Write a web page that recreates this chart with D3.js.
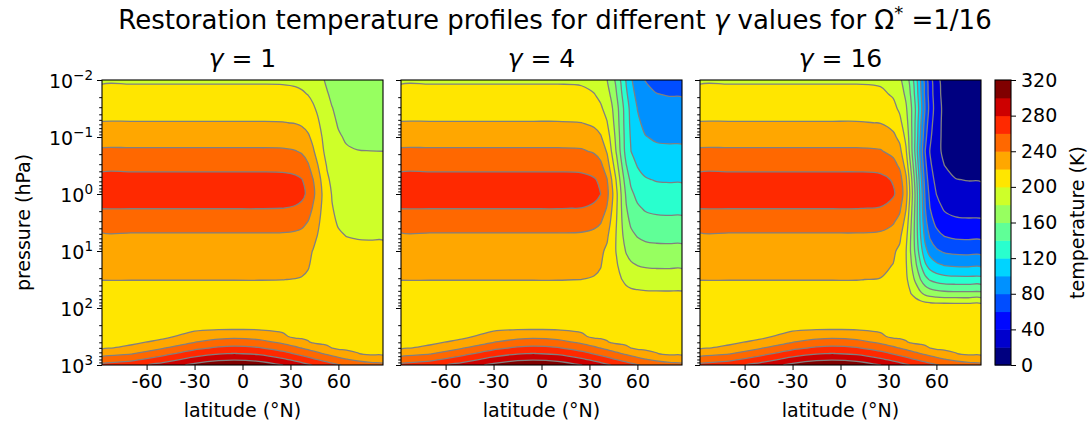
<!DOCTYPE html>
<html>
<head>
<meta charset="utf-8">
<script src="https://cdn.jsdelivr.net/npm/d3@7"></script>
<style>
  body { margin: 0; background: #fff; }
  text { font-family: "DejaVu Sans", sans-serif; fill: #000; }
</style>
</head>
<body>
<svg id="chart" width="1092" height="432"></svg>
<script>
// ---- data ----
const gammas = [1, 4, 16];
const latitudes = [-87.9, -70, -50, -30, -15, -5, 10, 25, 33, 37, 41, 44, 47, 50, 53, 56, 60, 65, 72, 80, 87.9];
const pressureLevels = [0.01, 0.0178, 0.0316, 0.0562, 0.1, 0.178, 0.316, 0.562, 1, 1.78, 3.16, 5.62, 10, 17.8, 31.6, 56.2,
                        100, 224, 316, 398, 501, 631, 794, 1000];
const contourLevels = [0, 20, 40, 60, 80, 100, 120, 140, 160, 180, 200, 220, 240, 260, 280, 300, 320];
const latTicks = [-60, -30, 0, 30, 60];
const pressureTicks = [0.01, 0.1, 1, 10, 100, 1000];
const pressureTickExp = ["\u22122", "\u22121", "0", "1", "2", "3"];
const colorbarTicks = [0, 40, 80, 120, 160, 200, 240, 280, 320];

// stratosphere rows (0.01 .. 56.2 hPa), one row per pressure level, one value per latitude
const tempGamma1 = [
  [198.0, 198.0, 198.0, 198.0, 198.0, 198.0, 198.0, 197.8, 196.9, 195.6, 193.4, 190.5, 186.5, 181.8, 177.0, 173.0, 169.4, 167.0, 165.9, 165.6, 165.5],
  [204.8, 204.8, 204.8, 204.8, 204.8, 204.8, 204.8, 204.6, 203.6, 202.1, 199.6, 196.3, 191.9, 186.6, 181.2, 176.7, 172.6, 170.0, 168.7, 168.4, 168.3],
  [211.9, 211.9, 211.9, 211.9, 211.9, 211.9, 211.9, 211.7, 210.5, 208.9, 206.1, 202.5, 197.5, 191.6, 185.6, 180.6, 176.0, 173.1, 171.7, 171.3, 171.2],
  [220.9, 220.9, 220.9, 220.9, 220.9, 220.9, 220.9, 220.6, 219.3, 217.5, 213.7, 208.7, 202.5, 195.3, 188.4, 183.2, 178.7, 175.9, 174.6, 174.2, 174.1],
  [231.6, 231.6, 231.6, 231.6, 231.6, 231.6, 231.6, 231.3, 229.7, 227.6, 222.6, 215.8, 208.1, 199.2, 191.1, 185.6, 181.4, 178.6, 177.4, 177.1, 177.0],
  [242.8, 242.8, 242.8, 242.8, 242.8, 242.8, 242.8, 242.4, 240.7, 238.2, 231.8, 222.7, 213.3, 202.6, 193.2, 187.5, 183.8, 181.4, 180.3, 180.1, 180.0],
  [254.5, 254.5, 254.5, 254.5, 254.5, 254.5, 254.5, 254.1, 252.1, 249.3, 242.0, 231.7, 220.9, 208.8, 198.1, 191.7, 187.4, 184.7, 183.5, 183.2, 183.1],
  [266.8, 266.8, 266.8, 266.8, 266.8, 266.8, 266.8, 266.3, 264.1, 260.9, 252.7, 241.0, 228.9, 215.2, 203.1, 195.9, 191.0, 188.0, 186.6, 186.3, 186.2],
  [270.6, 270.6, 270.6, 270.6, 270.6, 270.6, 270.6, 270.2, 267.9, 264.7, 256.4, 244.7, 232.5, 218.7, 206.5, 199.2, 194.3, 191.2, 189.8, 189.5, 189.4],
  [260.4, 260.4, 260.4, 260.4, 260.4, 260.4, 260.4, 260.0, 258.1, 255.5, 248.5, 238.7, 228.5, 217.0, 206.8, 200.7, 196.7, 194.1, 192.9, 192.7, 192.6],
  [248.4, 248.4, 248.4, 248.4, 248.4, 248.4, 248.4, 248.1, 246.6, 244.6, 239.2, 231.6, 223.7, 214.7, 206.9, 202.1, 199.0, 197.0, 196.1, 195.9, 195.8],
  [236.9, 236.9, 236.9, 236.9, 236.9, 236.9, 236.9, 236.7, 235.6, 234.2, 230.3, 224.8, 219.2, 212.8, 207.1, 203.7, 201.5, 200.0, 199.4, 199.2, 199.2],
  [227.7, 227.7, 227.7, 227.7, 227.7, 227.7, 227.7, 227.6, 226.8, 225.9, 223.3, 219.6, 215.9, 211.6, 207.8, 205.5, 204.0, 203.1, 202.6, 202.5, 202.5],
  [223.9, 223.9, 223.9, 223.9, 223.9, 223.9, 223.9, 223.8, 223.3, 222.6, 220.8, 218.2, 215.5, 212.4, 209.8, 208.2, 207.1, 206.4, 206.1, 206.0, 206.0],
  [220.2, 220.2, 220.2, 220.2, 220.2, 220.2, 220.2, 220.1, 219.8, 219.4, 218.3, 216.8, 215.2, 213.4, 211.8, 210.8, 210.1, 209.7, 209.6, 209.5, 209.5],
  [216.6, 216.6, 216.6, 216.6, 216.6, 216.6, 216.6, 216.6, 216.5, 216.4, 216.0, 215.5, 214.9, 214.3, 213.8, 213.4, 213.2, 213.1, 213.0, 213.0, 213.0]
];
const tempGamma4 = [
  [198.0, 198.0, 198.0, 198.0, 198.0, 198.0, 198.0, 197.3, 193.8, 188.9, 180.4, 169.2, 154.0, 135.9, 117.7, 102.4, 88.5, 79.5, 75.2, 74.0, 73.7],
  [204.8, 204.8, 204.8, 204.8, 204.8, 204.8, 204.8, 204.0, 200.5, 195.6, 186.9, 175.6, 160.2, 141.9, 123.5, 108.0, 93.9, 84.8, 80.4, 79.2, 78.9],
  [211.9, 211.9, 211.9, 211.9, 211.9, 211.9, 211.9, 211.1, 207.6, 202.6, 193.8, 182.3, 166.8, 148.2, 129.5, 113.9, 99.6, 90.4, 85.9, 84.7, 84.4],
  [220.9, 220.9, 220.9, 220.9, 220.9, 220.9, 220.9, 220.1, 216.5, 211.4, 200.9, 186.8, 169.6, 149.5, 130.3, 115.6, 103.2, 95.4, 91.6, 90.6, 90.3],
  [231.6, 231.6, 231.6, 231.6, 231.6, 231.6, 231.6, 230.8, 227.0, 221.7, 209.5, 192.5, 173.4, 151.5, 131.4, 117.8, 107.4, 100.7, 97.5, 96.9, 96.6],
  [242.8, 242.8, 242.8, 242.8, 242.8, 242.8, 242.8, 242.0, 238.1, 232.6, 218.4, 198.2, 177.2, 153.5, 132.6, 120.0, 111.7, 106.4, 104.0, 103.4, 103.3],
  [254.5, 254.5, 254.5, 254.5, 254.5, 254.5, 254.5, 253.6, 249.6, 244.0, 229.3, 208.4, 186.8, 162.3, 140.7, 127.8, 119.1, 113.7, 111.2, 110.6, 110.5],
  [266.8, 266.8, 266.8, 266.8, 266.8, 266.8, 266.8, 265.9, 261.8, 256.0, 240.8, 219.3, 197.0, 171.7, 149.4, 136.0, 127.1, 121.5, 118.9, 118.4, 118.2],
  [270.6, 270.6, 270.6, 270.6, 270.6, 270.6, 270.6, 269.8, 265.8, 260.1, 245.4, 224.5, 202.9, 178.3, 156.7, 143.7, 135.1, 129.6, 127.1, 126.5, 126.4],
  [260.4, 260.4, 260.4, 260.4, 260.4, 260.4, 260.4, 259.7, 256.1, 251.3, 238.5, 220.3, 201.6, 180.3, 161.5, 150.2, 142.7, 138.0, 135.8, 135.3, 135.2],
  [248.4, 248.4, 248.4, 248.4, 248.4, 248.4, 248.4, 247.8, 244.9, 240.8, 230.2, 215.2, 199.6, 182.0, 166.4, 157.1, 150.8, 146.9, 145.1, 144.7, 144.6],
  [236.9, 236.9, 236.9, 236.9, 236.9, 236.9, 236.9, 236.4, 234.1, 230.9, 222.5, 210.6, 198.3, 184.3, 172.0, 164.6, 159.6, 156.5, 155.1, 154.8, 154.7],
  [227.7, 227.7, 227.7, 227.7, 227.7, 227.7, 227.7, 227.3, 225.6, 223.2, 216.8, 207.8, 198.5, 187.9, 178.6, 173.0, 169.2, 166.9, 165.8, 165.6, 165.5],
  [223.9, 223.9, 223.9, 223.9, 223.9, 223.9, 223.9, 223.6, 222.3, 220.5, 215.7, 208.9, 201.9, 193.9, 186.9, 182.6, 179.8, 178.0, 177.2, 177.1, 177.0],
  [220.2, 220.2, 220.2, 220.2, 220.2, 220.2, 220.2, 220.0, 219.2, 218.0, 214.8, 210.3, 205.7, 200.5, 195.9, 193.1, 191.3, 190.1, 189.6, 189.4, 189.4],
  [216.6, 216.6, 216.6, 216.6, 216.6, 216.6, 216.6, 216.6, 216.2, 215.6, 214.2, 212.1, 210.0, 207.6, 205.5, 204.2, 203.4, 202.8, 202.6, 202.5, 202.5]
];
const tempGamma16 = [
  [198.0, 198.0, 198.0, 198.0, 198.0, 198.0, 198.0, 196.8, 191.4, 183.8, 170.3, 152.7, 128.9, 100.5, 72.0, 48.0, 26.1, 12.1, 5.2, 3.3, 2.9],
  [204.8, 204.8, 204.8, 204.8, 204.8, 204.8, 204.8, 203.6, 198.0, 190.1, 176.3, 158.2, 133.7, 104.3, 75.0, 50.2, 27.7, 13.3, 6.2, 4.2, 3.8],
  [211.9, 211.9, 211.9, 211.9, 211.9, 211.9, 211.9, 210.7, 204.9, 196.8, 182.5, 163.9, 138.7, 108.5, 78.2, 52.8, 29.6, 14.7, 7.5, 5.4, 5.0],
  [220.9, 220.9, 220.9, 220.9, 220.9, 220.9, 220.9, 219.6, 213.6, 205.3, 188.1, 164.9, 136.6, 103.6, 72.1, 48.1, 27.7, 14.9, 8.6, 6.9, 6.5],
  [231.6, 231.6, 231.6, 231.6, 231.6, 231.6, 231.6, 230.3, 224.0, 215.3, 195.0, 166.9, 135.5, 99.4, 66.1, 43.6, 26.4, 15.3, 10.2, 9.0, 8.6],
  [242.8, 242.8, 242.8, 242.8, 242.8, 242.8, 242.8, 241.4, 234.9, 225.9, 202.3, 168.7, 133.9, 94.6, 59.8, 39.0, 25.1, 16.3, 12.4, 11.4, 11.2],
  [254.5, 254.5, 254.5, 254.5, 254.5, 254.5, 254.5, 253.1, 246.3, 237.0, 212.5, 177.8, 141.8, 101.0, 65.1, 43.5, 29.1, 20.0, 15.9, 14.9, 14.7],
  [266.8, 266.8, 266.8, 266.8, 266.8, 266.8, 266.8, 265.3, 258.4, 248.7, 223.5, 187.6, 150.4, 108.3, 71.2, 48.9, 34.1, 24.6, 20.4, 19.5, 19.2],
  [270.6, 270.6, 270.6, 270.6, 270.6, 270.6, 270.6, 269.2, 262.3, 252.7, 227.7, 192.1, 155.2, 113.5, 76.7, 54.6, 39.8, 30.5, 26.3, 25.4, 25.1],
  [260.4, 260.4, 260.4, 260.4, 260.4, 260.4, 260.4, 259.0, 252.7, 243.8, 220.6, 187.6, 153.5, 114.8, 80.7, 60.2, 46.6, 37.9, 34.0, 33.1, 32.9],
  [248.4, 248.4, 248.4, 248.4, 248.4, 248.4, 248.4, 247.2, 241.4, 233.4, 212.5, 182.7, 151.9, 116.9, 86.1, 67.7, 55.3, 47.5, 44.0, 43.2, 43.0],
  [236.9, 236.9, 236.9, 236.9, 236.9, 236.9, 236.9, 235.8, 230.8, 223.7, 205.3, 179.1, 152.0, 121.3, 94.2, 78.0, 67.1, 60.3, 57.2, 56.5, 56.3],
  [227.7, 227.7, 227.7, 227.7, 227.7, 227.7, 227.7, 226.8, 222.5, 216.5, 200.8, 178.4, 155.3, 129.1, 106.0, 92.2, 82.9, 77.1, 74.5, 73.9, 73.7],
  [223.9, 223.9, 223.9, 223.9, 223.9, 223.9, 223.9, 223.1, 219.6, 214.6, 201.6, 183.2, 164.1, 142.4, 123.3, 111.9, 104.2, 99.4, 97.2, 96.7, 96.6],
  [220.2, 220.2, 220.2, 220.2, 220.2, 220.2, 220.2, 219.6, 217.0, 213.4, 203.8, 190.2, 176.1, 160.2, 146.1, 137.7, 132.0, 128.5, 126.9, 126.5, 126.4],
  [216.6, 216.6, 216.6, 216.6, 216.6, 216.6, 216.6, 216.3, 214.9, 212.9, 207.7, 200.3, 192.6, 183.9, 176.2, 171.6, 168.6, 166.6, 165.8, 165.6, 165.5]
];
// troposphere rows (100 .. 1000 hPa), the same in all three panels
const tempTroposphere = [
  [216.6, 216.6, 216.6, 216.6, 216.6, 216.6, 216.6, 216.6, 216.6, 216.6, 216.6, 216.6, 216.6, 216.6, 216.6, 216.6, 216.6, 216.6, 216.6, 216.6, 216.6],
  [216.6, 216.6, 216.6, 216.6, 216.6, 216.6, 216.6, 216.6, 216.6, 216.6, 216.6, 216.6, 216.6, 216.6, 216.6, 216.6, 216.6, 216.6, 216.6, 216.6, 216.6],
  [216.6, 216.6, 216.6, 225.7, 233.4, 235.2, 232.2, 222.8, 216.6, 216.6, 216.6, 216.6, 216.6, 216.6, 216.6, 216.6, 216.6, 216.6, 216.6, 216.6, 216.6],
  [216.6, 216.6, 223.9, 239.7, 247.6, 249.5, 246.2, 236.4, 229.2, 225.3, 221.3, 218.2, 216.6, 216.6, 216.6, 216.6, 216.6, 216.6, 216.6, 216.6, 216.6],
  [217.6, 223.5, 238.3, 254.6, 262.7, 264.6, 261.2, 251.0, 243.5, 239.4, 235.2, 232.1, 228.9, 225.7, 222.7, 219.7, 216.6, 216.6, 216.6, 216.6, 216.6],
  [232.4, 238.4, 253.7, 270.4, 278.7, 280.5, 277.0, 266.4, 258.6, 254.4, 250.1, 246.8, 243.5, 240.2, 237.1, 234.0, 230.1, 225.7, 220.6, 216.6, 216.6],
  [248.2, 254.4, 270.0, 287.2, 295.6, 297.5, 293.7, 282.7, 274.7, 270.3, 265.8, 262.4, 259.0, 255.7, 252.4, 249.2, 245.2, 240.7, 235.4, 231.3, 229.5],
  [265.1, 271.4, 287.5, 305.0, 313.6, 315.4, 311.5, 300.1, 291.8, 287.3, 282.6, 279.1, 275.6, 272.1, 268.7, 265.5, 261.3, 256.7, 251.2, 247.0, 245.1]
];
const panelTemps = [tempGamma1, tempGamma4, tempGamma16];

// ---- layout ----
const svg = d3.select("#chart");
const plotTop = 80, plotBottom = 365;
const panelLefts = [102, 401, 700];
const panelWidth = 281;
const tickFont = 19;

// matplotlib "jet" lookup table (256 entries)
function jet(t) {
  const seg = {
    r: [[0, 0], [0.35, 0], [0.66, 1], [0.89, 1], [1, 0.5]],
    g: [[0, 0], [0.125, 0], [0.375, 1], [0.64, 1], [0.91, 0], [1, 0]],
    b: [[0, 0.5], [0.11, 1], [0.34, 1], [0.65, 0], [1, 0]]
  };
  const u = Math.min(255, Math.floor(t * 256)) / 255;
  const f = pts => {
    for (let k = 0; k < pts.length - 1; k++) {
      const [x0, y0] = pts[k], [x1, y1] = pts[k + 1];
      if (u <= x1) return y0 + (y1 - y0) * (u - x0) / (x1 - x0);
    }
    return pts[pts.length - 1][1];
  };
  return d3.rgb(Math.round(f(seg.r) * 255), Math.round(f(seg.g) * 255), Math.round(f(seg.b) * 255)).formatHex();
}
// contourf colours: band midpoints, normalised from the first to the last band
const lo = contourLevels[0], hi = contourLevels[contourLevels.length - 1];
const mids = contourLevels.slice(0, -1).map((v, i) => (v + contourLevels[i + 1]) / 2);
const bandColors = mids.map(m => jet((m - mids[0]) / (mids[mids.length - 1] - mids[0])));

const y = d3.scaleLog().domain([0.01, 1000]).range([plotTop, plotBottom]);
const latAt = d3.scaleLinear().domain(d3.range(latitudes.length)).range(latitudes);
const logpAt = d3.scaleLinear().domain(d3.range(pressureLevels.length)).range(pressureLevels.map(Math.log10));
const smooth = d3.line().curve(d3.curveCatmullRomClosed.alpha(0.5));

const minorTicks = [];
[-2, -1, 0, 1, 2].forEach(e => { for (let m = 2; m <= 9; m++) minorTicks.push(m * Math.pow(10, e)); });

panelTemps.forEach((strat, p) => {
  const left = panelLefts[p];
  const x = d3.scaleLinear().domain([-87.9, 87.9]).range([left, left + panelWidth]);
  const grid = strat.concat(tempTroposphere);
  const values = grid.flat();

  svg.append("clipPath").attr("id", "clip" + p)
    .append("rect").attr("x", left).attr("y", plotTop).attr("width", panelWidth).attr("height", plotBottom - plotTop);
  const g = svg.append("g").attr("clip-path", "url(#clip" + p + ")");

  const toPx = ([cx, cy]) => [x(latAt(cx - 0.5)), y(Math.pow(10, logpAt(cy - 0.5)))];
  const shape = geom => geom.coordinates.map(poly => poly.map(ring => smooth(ring.slice(0, -1).map(toPx))).join("")).join("");

  const bands = d3.contours().size([latitudes.length, pressureLevels.length])
    .thresholds(contourLevels.slice(0, -1))(values);

  bands.forEach((b, k) => {
    if (!b.coordinates.length) return;
    g.append("path").attr("d", shape(b)).attr("fill", bandColors[k]).attr("fill-rule", "evenodd");
  });
  bands.forEach(b => {
    if (!b.coordinates.length || b.value === lo) return;
    g.append("path").attr("d", shape(b)).attr("fill", "none")
      .attr("stroke", "#808080").attr("stroke-width", 1.3);
  });

  // x axis
  const xAxis = svg.append("g").attr("transform", `translate(0,${plotBottom})`)
    .call(d3.axisBottom(x).tickValues(latTicks).tickSize(5).tickPadding(5).tickFormat(d => String(d)));
  xAxis.select(".domain").remove();
  xAxis.selectAll("text").attr("font-size", tickFont).attr("font-family", "DejaVu Sans");
  xAxis.selectAll("line").attr("stroke-width", 1);

  // y axis ticks
  const yMajor = svg.append("g").attr("transform", `translate(${left},0)`)
    .call(d3.axisLeft(y).tickValues(pressureTicks).tickSize(5).tickFormat(""));
  const yMinor = svg.append("g").attr("transform", `translate(${left},0)`)
    .call(d3.axisLeft(y).tickValues(minorTicks).tickSize(2.8).tickFormat(""));
  [yMajor, yMinor].forEach(a => { a.select(".domain").remove(); a.selectAll("line").attr("stroke-width", 1); });

  if (p === 0) {
    pressureTicks.forEach((v, i) => {
      const t = svg.append("text").attr("x", left - 9).attr("y", y(v) + 8)
        .attr("text-anchor", "end").attr("font-size", tickFont);
      t.append("tspan").text("10");
      t.append("tspan").attr("dy", -8).attr("font-size", 13.5).text(pressureTickExp[i]);
    });
    svg.append("text").attr("transform", `translate(30,${(plotTop + plotBottom) / 2}) rotate(-90)`)
      .attr("text-anchor", "middle").attr("font-size", tickFont).text("pressure (hPa)");
  }

  // frame
  svg.append("rect").attr("x", left).attr("y", plotTop).attr("width", panelWidth).attr("height", plotBottom - plotTop)
    .attr("fill", "none").attr("stroke", "#000").attr("stroke-width", 1.1);

  // labels
  svg.append("text").attr("x", left + panelWidth / 2).attr("y", 417)
    .attr("text-anchor", "middle").attr("font-size", tickFont).text("latitude (\u00b0N)");
  const ttl = svg.append("text").attr("x", left + panelWidth / 2).attr("y", 67)
    .attr("text-anchor", "middle").attr("font-size", 25);
  ttl.append("tspan").attr("font-style", "italic").text("\u03b3");
  ttl.append("tspan").text(" = " + gammas[p]);
});

// colorbar
const cbLeft = 995, cbWidth = 16;
const yc = d3.scaleLinear().domain([lo, hi]).range([plotBottom, plotTop]);
svg.append("g").selectAll("rect").data(bandColors).join("rect")
  .attr("x", cbLeft).attr("width", cbWidth)
  .attr("y", (c, i) => yc(contourLevels[i + 1]))
  .attr("height", (c, i) => yc(contourLevels[i]) - yc(contourLevels[i + 1]) + 0.5)
  .attr("fill", c => c);
svg.append("rect").attr("x", cbLeft).attr("y", plotTop).attr("width", cbWidth).attr("height", plotBottom - plotTop)
  .attr("fill", "none").attr("stroke", "#000").attr("stroke-width", 1.1);
const cbAxis = svg.append("g").attr("transform", `translate(${cbLeft + cbWidth},0)`)
  .call(d3.axisRight(yc).tickValues(colorbarTicks).tickSize(5).tickPadding(5).tickFormat(d => String(d)));
cbAxis.select(".domain").remove();
cbAxis.selectAll("text").attr("font-size", tickFont).attr("font-family", "DejaVu Sans");
cbAxis.selectAll("line").attr("stroke-width", 1);
svg.append("text").attr("transform", `translate(1084,${(plotTop + plotBottom) / 2}) rotate(-90)`)
  .attr("text-anchor", "middle").attr("font-size", tickFont).text("temperature (K)");

// title
const title = svg.append("text").attr("x", 555).attr("y", 29).attr("text-anchor", "middle").attr("font-size", 26);
title.append("tspan").text("Restoration temperature profiles for different ");
title.append("tspan").attr("font-style", "italic").text("\u03b3");
title.append("tspan").text(" values for \u03a9");
title.append("tspan").attr("dy", -10).attr("font-size", 18).text("*");
title.append("tspan").attr("dy", 10).text(" =1/16");
</script>
</body>
</html>
